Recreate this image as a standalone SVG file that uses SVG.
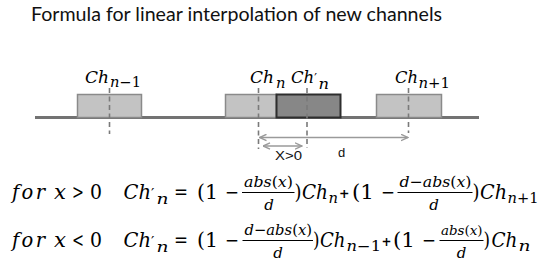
<svg xmlns="http://www.w3.org/2000/svg" width="550" height="263" viewBox="0 0 550 263">
<defs>
<style>
.title{font-family:Lato,"Noto Sans","Liberation Sans",sans-serif;font-size:19.5px;fill:#111}
.lbl{font-family:"Liberation Sans",Arial,sans-serif;font-size:13px;fill:#111}
.mi{font-family:"DejaVu Serif","Liberation Serif",serif;font-style:italic;font-size:19.5px;fill:#000}
.mu{font-family:"DejaVu Serif","Liberation Serif",serif;font-style:normal;font-size:19.5px;fill:#000}
.pl{font-family:"DejaVu Serif","Liberation Serif",serif;font-style:normal;font-weight:bold;font-size:13.5px;fill:#000}
.ms{font-family:"DejaVu Serif","Liberation Serif",serif;font-style:italic;font-size:14px;fill:#000}
.mf{font-family:"DejaVu Serif","Liberation Serif",serif;font-style:italic;font-size:15px;fill:#000}
.mfs{font-family:"DejaVu Serif","Liberation Serif",serif;font-style:italic;font-size:13.5px;fill:#000}
.md{font-family:"DejaVu Serif","Liberation Serif",serif;font-style:italic;font-size:15px;fill:#000}
.ci{font-family:"DejaVu Serif","Liberation Serif",serif;font-style:italic;font-size:16.5px;fill:#000}
.up{font-style:normal}
.light{fill:#c3c3c3;stroke:#8a8a8a;stroke-width:1.5}
.dark{fill:#878787;stroke:#2e2e2e;stroke-width:2}
.dash{stroke:#7a7a7a;stroke-width:1.6;stroke-dasharray:5 3.5;fill:none}
.arr{stroke:#9a9a9a;stroke-width:1.5;fill:none;marker-start:url(#ah);marker-end:url(#ah)}
.bar{stroke:#000;stroke-width:1}
</style>
<marker id="ah" viewBox="0 0 8 8" refX="7.5" refY="4" markerWidth="8" markerHeight="8" markerUnits="userSpaceOnUse" orient="auto-start-reverse">
<path d="M0.5,0.8 L7.5,4 L0.5,7.2" fill="none" stroke="#9a9a9a" stroke-width="1.4"/>
</marker>
</defs>

<text class="title" x="31" y="21" textLength="411" lengthAdjust="spacingAndGlyphs">Formula for linear interpolation of new channels</text>

<g id="axis">
<line x1="35" y1="117.5" x2="479" y2="117.5" stroke="#737373" stroke-width="3"/>
</g>

<g id="channel-n-minus-1">
<rect class="light" x="77.5" y="94.5" width="64" height="23"/>
<line class="dash" x1="109.5" y1="88" x2="109.5" y2="134"/>
<text class="ci" x="85" y="82.5" textLength="24" lengthAdjust="spacingAndGlyphs">Ch</text>
<text class="ms" x="110" y="86.5" textLength="31" lengthAdjust="spacingAndGlyphs">n<tspan class="up">−1</tspan></text>
</g>

<g id="channel-n">
<rect class="light" x="225.5" y="94.5" width="51" height="23"/>
<line class="dash" x1="258.5" y1="88" x2="258.5" y2="149"/>
<text class="ci" x="250" y="82.5" textLength="24" lengthAdjust="spacingAndGlyphs">Ch</text>
<text class="ms" x="276" y="87.5" textLength="9.5" lengthAdjust="spacingAndGlyphs">n</text>
</g>

<g id="channel-n-prime">
<rect class="dark" x="276.5" y="94.5" width="64" height="23"/>
<line class="dash" x1="307" y1="88" x2="307" y2="148"/>
<text class="ci" x="291" y="82.5">Ch<tspan class="up" font-size="12">′</tspan></text>
<text class="ms" x="318.5" y="88.5" textLength="10.5" lengthAdjust="spacingAndGlyphs">n</text>
</g>

<g id="channel-n-plus-1">
<rect class="light" x="376.5" y="94.5" width="65" height="23"/>
<line class="dash" x1="408.5" y1="88" x2="408.5" y2="133"/>
<text class="ci" x="395" y="83" textLength="23" lengthAdjust="spacingAndGlyphs">Ch</text>
<text class="ms" x="418.5" y="87.5" textLength="31.5" lengthAdjust="spacingAndGlyphs">n<tspan class="up">+1</tspan></text>
</g>

<g id="connectors">
<line class="arr" x1="259.5" y1="137.5" x2="408" y2="137.5"/>
<line class="arr" x1="263" y1="146" x2="302" y2="146"/>
<text class="lbl" x="275" y="160" textLength="27" lengthAdjust="spacingAndGlyphs">X&gt;0</text>
<text class="lbl" x="338" y="156.5">d</text>
</g>

<g id="formula-1">
<text class="mi" x="12" y="199" textLength="33" lengthAdjust="spacing">for</text>
<text class="mi" x="54" y="199" textLength="12" lengthAdjust="spacingAndGlyphs">x</text>
<text class="mu" x="72" y="199" textLength="12" lengthAdjust="spacingAndGlyphs">&gt;</text>
<text class="mu" x="90" y="199" textLength="12" lengthAdjust="spacingAndGlyphs">0</text>
<text class="mi" x="123.5" y="199">Ch<tspan class="up" font-size="15">′</tspan></text>
<text class="ms" x="156.5" y="203.5" textLength="12" lengthAdjust="spacingAndGlyphs">n</text>
<text class="mu" x="174" y="199" textLength="14" lengthAdjust="spacingAndGlyphs">=</text>
<text class="mu" x="197" y="199" textLength="21" lengthAdjust="spacingAndGlyphs">(1</text>
<text class="mu" x="225" y="199" textLength="14" lengthAdjust="spacingAndGlyphs">−</text>
<text class="mf" x="244" y="187" textLength="49" lengthAdjust="spacingAndGlyphs">abs<tspan class="up">(</tspan>x<tspan class="up">)</tspan></text>
<line class="bar" x1="242" y1="192.5" x2="294.5" y2="192.5"/>
<text class="md" x="269" y="210" text-anchor="middle">d</text>
<text class="mu" x="294.5" y="199" textLength="7" lengthAdjust="spacingAndGlyphs">)</text>
<text class="mi" x="302" y="199" textLength="26" lengthAdjust="spacingAndGlyphs">Ch</text>
<text class="ms" x="328.5" y="203" textLength="9.5" lengthAdjust="spacingAndGlyphs">n</text>
<text class="pl" x="339" y="197.5" textLength="10.5" lengthAdjust="spacingAndGlyphs">+</text>
<text class="mu" x="352" y="199" textLength="22" lengthAdjust="spacingAndGlyphs">(1</text>
<text class="mu" x="381" y="199" textLength="14" lengthAdjust="spacingAndGlyphs">−</text>
<text class="mf" x="399.5" y="187" textLength="72" lengthAdjust="spacingAndGlyphs">d<tspan class="up">−</tspan>abs<tspan class="up">(</tspan>x<tspan class="up">)</tspan></text>
<line class="bar" x1="397.5" y1="192.5" x2="472.5" y2="192.5"/>
<text class="md" x="434" y="210" text-anchor="middle">d</text>
<text class="mu" x="472.5" y="199" textLength="7" lengthAdjust="spacingAndGlyphs">)</text>
<text class="mi" x="480" y="199" textLength="27" lengthAdjust="spacingAndGlyphs">Ch</text>
<text class="ms" x="507.5" y="203" textLength="31" lengthAdjust="spacingAndGlyphs">n<tspan class="up">+1</tspan></text>
</g>

<g id="formula-2">
<text class="mi" x="12" y="247" textLength="33" lengthAdjust="spacing">for</text>
<text class="mi" x="54" y="247" textLength="12" lengthAdjust="spacingAndGlyphs">x</text>
<text class="mu" x="72" y="247" textLength="12" lengthAdjust="spacingAndGlyphs">&lt;</text>
<text class="mu" x="90" y="247" textLength="12" lengthAdjust="spacingAndGlyphs">0</text>
<text class="mi" x="123.5" y="247">Ch<tspan class="up" font-size="15">′</tspan></text>
<text class="ms" x="156.5" y="251.5" textLength="12" lengthAdjust="spacingAndGlyphs">n</text>
<text class="mu" x="174" y="247" textLength="14" lengthAdjust="spacingAndGlyphs">=</text>
<text class="mu" x="197" y="247" textLength="21" lengthAdjust="spacingAndGlyphs">(1</text>
<text class="mu" x="225" y="247" textLength="14" lengthAdjust="spacingAndGlyphs">−</text>
<text class="mf" x="244.5" y="235" textLength="67.5" lengthAdjust="spacingAndGlyphs">d<tspan class="up">−</tspan>abs<tspan class="up">(</tspan>x<tspan class="up">)</tspan></text>
<line class="bar" x1="242.5" y1="240.5" x2="313" y2="240.5"/>
<text class="md" x="278" y="258" text-anchor="middle">d</text>
<text class="mu" x="313" y="247" textLength="6.5" lengthAdjust="spacingAndGlyphs">)</text>
<text class="mi" x="320" y="247" textLength="25.5" lengthAdjust="spacingAndGlyphs">Ch</text>
<text class="ms" x="346.5" y="251" textLength="34.5" lengthAdjust="spacingAndGlyphs">n<tspan class="up">−1</tspan></text>
<text class="pl" x="381.5" y="245.5" textLength="10" lengthAdjust="spacingAndGlyphs">+</text>
<text class="mu" x="393" y="247" textLength="22" lengthAdjust="spacingAndGlyphs">(1</text>
<text class="mu" x="422" y="247" textLength="14" lengthAdjust="spacingAndGlyphs">−</text>
<text class="mfs" x="441" y="235" textLength="41.5" lengthAdjust="spacingAndGlyphs">abs<tspan class="up">(</tspan>x<tspan class="up">)</tspan></text>
<line class="bar" x1="439.5" y1="240.5" x2="483.5" y2="240.5"/>
<text class="md" x="461.5" y="258" text-anchor="middle">d</text>
<text class="mu" x="483.5" y="247" textLength="6.5" lengthAdjust="spacingAndGlyphs">)</text>
<text class="mi" x="491.5" y="247" textLength="26" lengthAdjust="spacingAndGlyphs">Ch</text>
<text class="ms" x="518.5" y="251" textLength="12" lengthAdjust="spacingAndGlyphs">n</text>
</g>
</svg>
